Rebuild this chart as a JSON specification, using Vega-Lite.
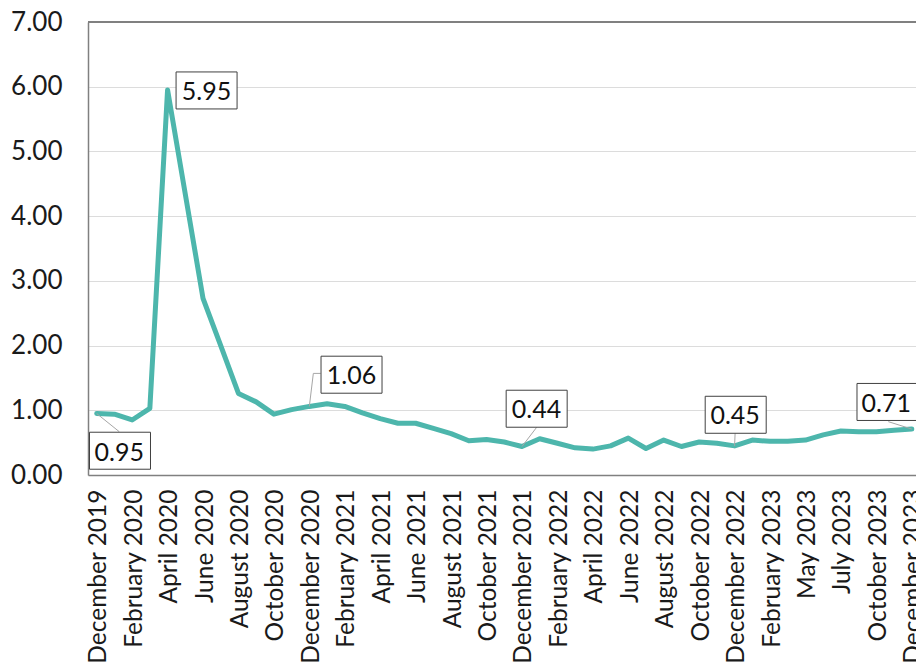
{
  "$schema": "https://vega.github.io/schema/vega-lite/v6.json",
  "autosize": {"type": "none"},
  "width": 828,
  "height": 453,
  "padding": {"left": 88, "top": 22, "right": 0, "bottom": 191},
  "background": "white",
  "config": {
    "view": {"stroke": null},
    "font": "Lato",
    "axis": {"labelFont": "Lato", "labelColor": "#1a1a1a"}
  },
  "data": {"values": [
    {"month": "December 2019", "value": 0.95},
    {"month": "January 2020", "value": 0.94},
    {"month": "February 2020", "value": 0.85},
    {"month": "March 2020", "value": 1.03},
    {"month": "April 2020", "value": 5.95},
    {"month": "May 2020", "value": 4.34},
    {"month": "June 2020", "value": 2.73},
    {"month": "July 2020", "value": 2.0},
    {"month": "August 2020", "value": 1.26},
    {"month": "September 2020", "value": 1.13},
    {"month": "October 2020", "value": 0.94},
    {"month": "November 2020", "value": 1.01},
    {"month": "December 2020", "value": 1.06},
    {"month": "January 2021", "value": 1.1},
    {"month": "February 2021", "value": 1.06},
    {"month": "March 2021", "value": 0.96},
    {"month": "April 2021", "value": 0.87},
    {"month": "May 2021", "value": 0.8},
    {"month": "June 2021", "value": 0.8},
    {"month": "July 2021", "value": 0.72},
    {"month": "August 2021", "value": 0.64},
    {"month": "September 2021", "value": 0.53},
    {"month": "October 2021", "value": 0.55},
    {"month": "November 2021", "value": 0.51},
    {"month": "December 2021", "value": 0.44},
    {"month": "January 2022", "value": 0.56},
    {"month": "February 2022", "value": 0.49},
    {"month": "March 2022", "value": 0.42},
    {"month": "April 2022", "value": 0.4},
    {"month": "May 2022", "value": 0.45},
    {"month": "June 2022", "value": 0.57},
    {"month": "July 2022", "value": 0.41},
    {"month": "August 2022", "value": 0.54},
    {"month": "September 2022", "value": 0.44},
    {"month": "October 2022", "value": 0.51},
    {"month": "November 2022", "value": 0.49},
    {"month": "December 2022", "value": 0.45},
    {"month": "January 2023", "value": 0.54},
    {"month": "February 2023", "value": 0.52},
    {"month": "March 2023", "value": 0.52},
    {"month": "May 2023", "value": 0.54},
    {"month": "June 2023", "value": 0.62},
    {"month": "July 2023", "value": 0.68},
    {"month": "August 2023", "value": 0.67},
    {"month": "October 2023", "value": 0.67},
    {"month": "November 2023", "value": 0.69},
    {"month": "December 2023", "value": 0.71}
  ]},
  "encoding": {
    "x": {
      "field": "month", "type": "ordinal", "sort": null, "title": null,
      "scale": {"type": "point", "padding": 0.364, "align": 0.674},
      "axis": {
        "values": ["December 2019", "February 2020", "April 2020", "June 2020", "August 2020", "October 2020", "December 2020", "February 2021", "April 2021", "June 2021", "August 2021", "October 2021", "December 2021", "February 2022", "April 2022", "June 2022", "August 2022", "October 2022", "December 2022", "February 2023", "May 2023", "July 2023", "October 2023", "December 2023"],
        "labelAngle": -90, "labelFontSize": 24.5, "labelPadding": 14, "labelOffset": 2,
        "ticks": false, "domainColor": "#808080", "domainWidth": 1.5, "grid": false,
        "labelOverlap": false, "labelBound": false, "labelFlush": false
      }
    },
    "y": {
      "field": "value", "type": "quantitative", "title": null,
      "scale": {"domain": [0, 7], "nice": false, "zero": true},
      "axis": {
        "values": [0, 1, 2, 3, 4, 5, 6, 7], "format": ".2f",
        "labelFontSize": 26, "labelPadding": 26, "ticks": false,
        "domainColor": "#808080", "domainWidth": 1.5,
        "grid": true, "gridColor": "#dcdcdc", "gridWidth": 1
      }
    }
  },
  "layer": [
    {
      "mark": {"type": "rule", "color": "#808080", "strokeWidth": 1.5},
      "encoding": {"x": null, "y": {"datum": 7, "type": "quantitative"}}
    },
    {
      "mark": {"type": "line", "color": "#4DB6AC", "strokeWidth": 5, "strokeJoin": "round", "strokeCap": "round"}
    },
    {
      "transform": [{"filter": "datum.month === 'April 2020'"}],
      "layer": [
        {"mark": {"type": "point", "shape": "M-1,-0.6066L1,-0.6066L1,0.6066L-1,0.6066Z", "size": 3721, "filled": true, "fill": "white", "stroke": "#404040", "strokeWidth": 1, "opacity": 1, "xOffset": 39, "yOffset": 0.5}},
        {"mark": {"type": "text", "fontSize": 25, "font": "Lato", "color": "#111111", "align": "center", "baseline": "middle", "dx": 39, "dy": 2}, "encoding": {"text": {"field": "value", "format": ".2f"}}}
      ]
    },
    {
      "transform": [{"filter": "datum.month === 'December 2019'"}],
      "layer": [
        {"mark": {"type": "rule", "color": "#a6a6a6", "strokeWidth": 1, "x2Offset": 22.6, "y2Offset": 18.2}, "encoding": {"x2": {"field": "month"}, "y2": {"field": "value"}}},
        {"mark": {"type": "point", "shape": "M-1,-0.6066L1,-0.6066L1,0.6066L-1,0.6066Z", "size": 3721, "filled": true, "fill": "white", "stroke": "#404040", "strokeWidth": 1, "opacity": 1, "xOffset": 23.3, "yOffset": 37.2}},
        {"mark": {"type": "text", "fontSize": 25, "font": "Lato", "color": "#111111", "align": "center", "baseline": "middle", "dx": 22.5, "dy": 39}, "encoding": {"text": {"field": "value", "format": ".2f"}}}
      ]
    },
    {
      "transform": [{"filter": "datum.month === 'December 2020'"}],
      "layer": [
        {"mark": {"type": "rule", "color": "#a6a6a6", "strokeWidth": 1, "x2Offset": 4, "y2Offset": -33}, "encoding": {"x2": {"field": "month"}, "y2": {"field": "value"}}},
        {"mark": {"type": "rule", "color": "#a6a6a6", "strokeWidth": 1, "xOffset": 4, "yOffset": -33, "x2Offset": 11.4, "y2Offset": -33}, "encoding": {"x2": {"field": "month"}, "y2": {"field": "value"}}},
        {"mark": {"type": "point", "shape": "M-1,-0.6066L1,-0.6066L1,0.6066L-1,0.6066Z", "size": 3721, "filled": true, "fill": "white", "stroke": "#404040", "strokeWidth": 1, "opacity": 1, "xOffset": 42.2, "yOffset": -31.7}},
        {"mark": {"type": "text", "fontSize": 25, "font": "Lato", "color": "#111111", "align": "center", "baseline": "middle", "dx": 42.2, "dy": -30.5}, "encoding": {"text": {"field": "value", "format": ".2f"}}}
      ]
    },
    {
      "transform": [{"filter": "datum.month === 'December 2021'"}],
      "layer": [
        {"mark": {"type": "rule", "color": "#a6a6a6", "strokeWidth": 1, "x2Offset": 14.7, "y2Offset": -19.2}, "encoding": {"x2": {"field": "month"}, "y2": {"field": "value"}}},
        {"mark": {"type": "point", "shape": "M-1,-0.6066L1,-0.6066L1,0.6066L-1,0.6066Z", "size": 3721, "filled": true, "fill": "white", "stroke": "#404040", "strokeWidth": 1, "opacity": 1, "xOffset": 14.7, "yOffset": -37.8}},
        {"mark": {"type": "text", "fontSize": 25, "font": "Lato", "color": "#111111", "align": "center", "baseline": "middle", "dx": 14.5, "dy": -36.5}, "encoding": {"text": {"field": "value", "format": ".2f"}}}
      ]
    },
    {
      "transform": [{"filter": "datum.month === 'December 2022'"}],
      "layer": [
        {"mark": {"type": "rule", "color": "#a6a6a6", "strokeWidth": 1, "x2Offset": 0.5, "y2Offset": -12.6}, "encoding": {"x2": {"field": "month"}, "y2": {"field": "value"}}},
        {"mark": {"type": "point", "shape": "M-1,-0.6066L1,-0.6066L1,0.6066L-1,0.6066Z", "size": 3721, "filled": true, "fill": "white", "stroke": "#404040", "strokeWidth": 1, "opacity": 1, "xOffset": 1.1, "yOffset": -31.1}},
        {"mark": {"type": "text", "fontSize": 25, "font": "Lato", "color": "#111111", "align": "center", "baseline": "middle", "dx": 0.5, "dy": -29.6}, "encoding": {"text": {"field": "value", "format": ".2f"}}}
      ]
    },
    {
      "transform": [{"filter": "datum.month === 'December 2023'"}],
      "layer": [
        {"mark": {"type": "rule", "color": "#a6a6a6", "strokeWidth": 1, "x2Offset": -23.5, "y2Offset": -7.4}, "encoding": {"x2": {"field": "month"}, "y2": {"field": "value"}}},
        {"mark": {"type": "point", "shape": "M-1,-0.6066L1,-0.6066L1,0.6066L-1,0.6066Z", "size": 3721, "filled": true, "fill": "white", "stroke": "#404040", "strokeWidth": 1, "opacity": 1, "xOffset": -24.3, "yOffset": -27.1}},
        {"mark": {"type": "text", "fontSize": 25, "font": "Lato", "color": "#111111", "align": "center", "baseline": "middle", "dx": -25.6, "dy": -24.9}, "encoding": {"text": {"field": "value", "format": ".2f"}}}
      ]
    }
  ]
}
